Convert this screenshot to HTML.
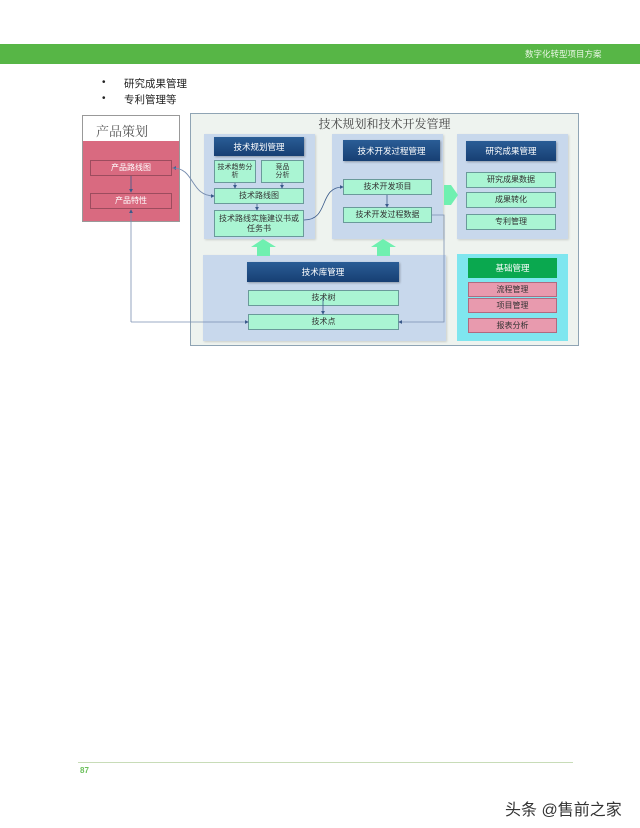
<!DOCTYPE html>
<html><head><meta charset="utf-8"><style>
body{margin:0;width:640px;height:828px;background:#fff;position:relative;overflow:hidden;font-family:"Liberation Sans","Noto Sans CJK SC",sans-serif;}
.a{position:absolute;box-sizing:border-box;}
.t{display:flex;align-items:center;justify-content:center;text-align:center;font-size:8px;line-height:10px;color:#333;}
.h{background:linear-gradient(#2a5d96,#173f73);color:#fff;font-size:8.5px;box-shadow:1px 1px 2px rgba(0,0,0,.3);}
.g{background:#aaf5d3;border:1px solid #6a9a9a;}
.p{background:#e89aae;border:1px solid #b06a80;}
.pn{background:#c8d8ec;box-shadow:1px 1px 2px rgba(0,0,0,.15);}
</style></head><body>
<div class="a" style="left:0;top:44px;width:640px;height:20px;background:#57b646;"></div>
<div class="a" style="left:525px;top:48px;font-size:8.5px;color:#eaf7e6;font-family:'Liberation Sans','Noto Sans CJK SC',sans-serif;">数字化转型项目方案</div>
<div class="a" style="left:102px;top:77px;font-size:10px;color:#222;">•</div>
<div class="a" style="left:124px;top:76px;font-size:10.5px;color:#222;">研究成果管理</div>
<div class="a" style="left:102px;top:93px;font-size:10px;color:#222;">•</div>
<div class="a" style="left:124px;top:92px;font-size:10.5px;color:#222;">专利管理等</div>

<!-- product box -->
<div class="a" style="left:82px;top:115px;width:98px;height:107px;border:1px solid #999;background:#fff;"></div>
<div class="a" style="left:83px;top:141px;width:96px;height:80px;background:#d96a80;"></div>
<div class="a" style="left:96px;top:121px;font-size:13px;color:#555;font-family:'Liberation Serif','Noto Serif CJK SC',serif;">产品策划</div>
<div class="a t p" style="left:90px;top:160px;width:82px;height:16px;color:#fff;background:#d96a80;border-color:#9c4c5e;">产品路线图</div>
<div class="a t p" style="left:90px;top:193px;width:82px;height:16px;color:#fff;background:#d96a80;border-color:#9c4c5e;">产品特性</div>

<!-- main frame -->
<div class="a" style="left:190px;top:113px;width:389px;height:233px;border:1px solid #8fa4b4;background:#eef3ef;"></div>
<div class="a" style="left:190px;top:115px;width:389px;text-align:center;font-size:12px;color:#444;font-family:'Liberation Serif','Noto Serif CJK SC',serif;">技术规划和技术开发管理</div>

<div class="a pn" style="left:204px;top:134px;width:111px;height:105px;"></div>
<div class="a t h" style="left:214px;top:137px;width:90px;height:19px;">技术规划管理</div>
<div class="a t g" style="left:214px;top:160px;width:42px;height:23px;font-size:7px;line-height:8px;">技术趋势分<br>析</div>
<div class="a t g" style="left:261px;top:160px;width:43px;height:23px;font-size:7px;line-height:8px;">竞品<br>分析</div>
<div class="a t g" style="left:214px;top:188px;width:90px;height:16px;">技术路线图</div>
<div class="a t g" style="left:214px;top:210px;width:90px;height:27px;">技术路线实施建议书或<br>任务书</div>

<div class="a pn" style="left:332px;top:134px;width:111px;height:105px;"></div>
<div class="a t h" style="left:343px;top:140px;width:97px;height:21px;">技术开发过程管理</div>
<div class="a t g" style="left:343px;top:179px;width:89px;height:16px;">技术开发项目</div>
<div class="a t g" style="left:343px;top:207px;width:89px;height:16px;">技术开发过程数据</div>

<div class="a pn" style="left:457px;top:134px;width:111px;height:105px;"></div>
<div class="a t h" style="left:466px;top:141px;width:90px;height:20px;">研究成果管理</div>
<div class="a t g" style="left:466px;top:172px;width:90px;height:16px;">研究成果数据</div>
<div class="a t g" style="left:466px;top:192px;width:90px;height:16px;">成果转化</div>
<div class="a t g" style="left:466px;top:214px;width:90px;height:16px;">专利管理</div>

<div class="a pn" style="left:203px;top:255px;width:243px;height:86px;"></div>
<div class="a t h" style="left:247px;top:262px;width:152px;height:20px;">技术库管理</div>
<div class="a t g" style="left:248px;top:290px;width:151px;height:16px;">技术树</div>
<div class="a t g" style="left:248px;top:314px;width:151px;height:16px;">技术点</div>

<div class="a" style="left:457px;top:254px;width:111px;height:87px;background:#7fe6ef;"></div>
<div class="a t" style="left:468px;top:258px;width:89px;height:20px;background:#0aa84f;color:#fff;font-size:8.5px;">基础管理</div>
<div class="a t p" style="left:468px;top:282px;width:89px;height:15px;">流程管理</div>
<div class="a t p" style="left:468px;top:298px;width:89px;height:15px;">项目管理</div>
<div class="a t p" style="left:468px;top:318px;width:89px;height:15px;">报表分析</div>

<svg class="a" style="left:0;top:0" width="640" height="828">
<defs><marker id="m" markerWidth="5" markerHeight="5" refX="4" refY="2.5" orient="auto"><path d="M0,0L5,2.5L0,5z" fill="#3a5a8a"/></marker></defs>
<g fill="#6ff0b0">
<path d="M251,247L263,239L276,247L270,247L270,256L257,256L257,247z"/>
<path d="M371,247L383,239L396,247L390,247L390,256L377,256L377,247z"/>
<path d="M444,185L451,185L458,195L451,205L444,205z"/>
</g>
<g stroke="#3a5a8a" stroke-width="0.8" fill="none" marker-end="url(#m)">
<path d="M131,176L131,192"/>
<path d="M235,183L235,188"/><path d="M282,183L282,188"/>
<path d="M257,204L257,210"/>
<path d="M387,195L387,207"/>
<path d="M323,298L323,314"/>
<path d="M304,220C330,220 318,187 343,187"/>
</g>
<g stroke="#7a8fb0" stroke-width="0.8" fill="none" marker-end="url(#m)">
<path d="M214,196C190,196 195,168 173,168"/>
<path d="M173,168C195,168 190,196 214,196"/>
<path d="M131,322L131,210"/>
<path d="M131,322L248,322"/>
<path d="M432,215L444,215L444,322L399,322"/>
</g>
</svg>

<div class="a" style="left:78px;top:762px;width:495px;height:1px;background:#c8dcb8;"></div>
<div class="a" style="left:80px;top:766px;font-size:8px;font-weight:bold;color:#6bbf5a;">87</div>
<div class="a" style="left:505px;top:796px;font-size:16px;color:#333;">头条 @售前之家</div>
</body></html>
